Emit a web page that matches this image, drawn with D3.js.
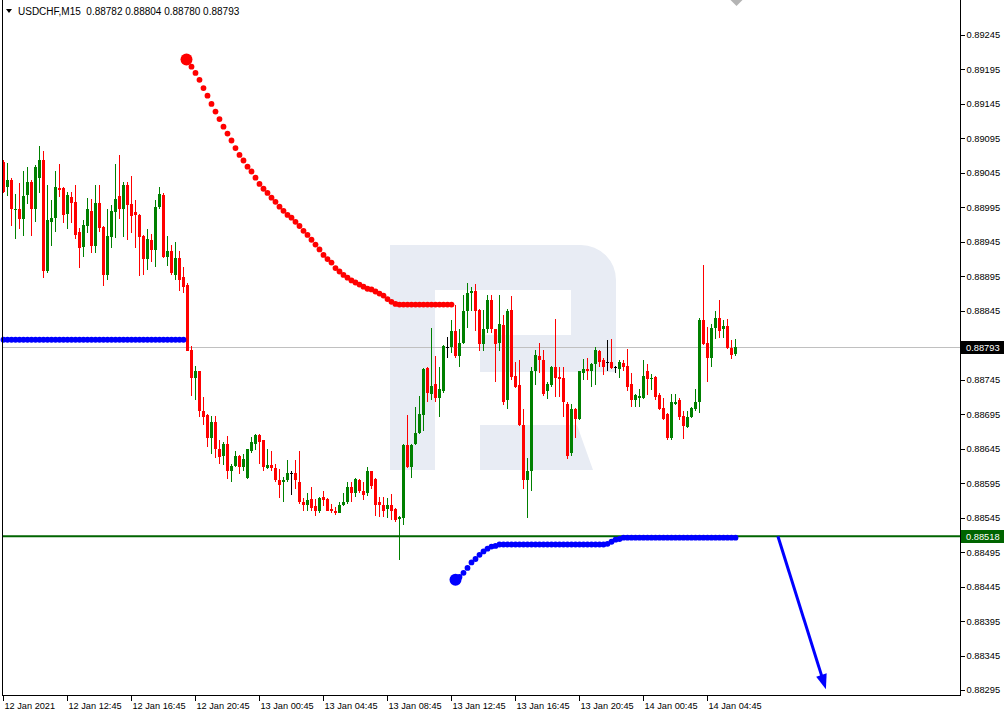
<!DOCTYPE html>
<html><head><meta charset="utf-8">
<script src="https://cdn.jsdelivr.net/npm/d3@7/dist/d3.min.js"></script>
<style>
html,body{margin:0;padding:0;background:#fff;}
svg{display:block;font-family:"Liberation Sans",Arial,sans-serif;}
</style></head>
<body>
<svg id="chart" width="1007" height="716"></svg>
<script>
// ---------- DATA ----------
const symbolTitle = "USDCHF,M15  0.88782 0.88804 0.88780 0.88793";
const timeLabels = ["12 Jan 2021","12 Jan 12:45","12 Jan 16:45","12 Jan 20:45","13 Jan 00:45","13 Jan 04:45","13 Jan 08:45","13 Jan 12:45","13 Jan 16:45","13 Jan 20:45","14 Jan 00:45","14 Jan 04:45"];
const timeLabelIndex = [0,16,32,48,64,80,96,112,128,144,160,176];
const priceTicks = [0.89245,0.89195,0.89145,0.89095,0.89045,0.88995,0.88945,0.88895,0.88845,0.88795,0.88745,0.88695,0.88645,0.88595,0.88545,0.88495,0.88445,0.88395,0.88345,0.88295];
const currentPrice = 0.88793;
const levelPrice = 0.88518;

const open = [
0.89061,0.89025,0.89035,0.88992,0.88993,0.88978,0.89013,0.89032,0.88992,0.89038,
0.89064,0.88902,0.88974,0.88980,0.89023,0.89023,0.88986,0.89010,0.89003,0.88960,
0.88938,0.88968,0.88990,0.88939,0.89002,0.88967,0.88897,0.88952,0.88989,0.89012,
0.88993,0.89028,0.89000,0.88989,0.88984,0.88954,0.88920,0.88948,0.88933,0.88996,
0.89013,0.88923,0.88931,0.88897,0.88922,0.88894,0.88883,0.88788,0.88748,0.88757,
0.88700,0.88694,0.88661,0.88684,0.88645,0.88635,0.88652,0.88612,0.88620,0.88635,
0.88619,0.88603,0.88641,0.88652,0.88665,0.88657,0.88617,0.88622,0.88617,0.88600,
0.88596,0.88599,0.88610,0.88610,0.88597,0.88568,0.88564,0.88572,0.88562,0.88554,
0.88575,0.88572,0.88558,0.88555,0.88552,0.88564,0.88567,0.88590,0.88581,0.88600,
0.88584,0.88581,0.88612,0.88601,0.88567,0.88564,0.88557,0.88564,0.88558,0.88543,
0.88545,0.88651,0.88619,0.88652,0.88668,0.88694,0.88762,0.88725,0.88739,0.88719,
0.88729,0.88793,0.88793,0.88815,0.88780,0.88799,0.88844,0.88871,0.88873,0.88846,
0.88797,0.88818,0.88860,0.88818,0.88799,0.88825,0.88716,0.88846,0.88751,0.88738,
0.88680,0.88599,0.88612,0.88757,0.88780,0.88773,0.88728,0.88738,0.88764,0.88749,
0.88748,0.88710,0.88639,0.88703,0.88688,0.88755,0.88760,0.88758,0.88768,0.88787,
0.88773,0.88771,0.88771,0.88764,0.88760,0.88770,0.88765,0.88739,0.88716,0.88719,
0.88719,0.88757,0.88746,0.88749,0.88723,0.88704,0.88696,0.88661,0.88710,0.88716,
0.88693,0.88677,0.88691,0.88702,0.88712,0.88832,0.88799,0.88777,0.88820,0.88835,
0.88818,0.88823,0.88791,0.88782];
const high = [
0.89063,0.89060,0.89038,0.89015,0.89031,0.89048,0.89054,0.89035,0.89057,0.89084,
0.89077,0.89028,0.89005,0.89048,0.89058,0.89025,0.89018,0.89018,0.89028,0.88965,
0.88977,0.89009,0.89007,0.89028,0.89028,0.88968,0.88993,0.88999,0.89058,0.89071,
0.89032,0.89032,0.89041,0.89005,0.88986,0.88955,0.88964,0.88957,0.89005,0.89025,
0.89016,0.88954,0.88941,0.88945,0.88931,0.88909,0.88886,0.88794,0.88765,0.88758,
0.88720,0.88696,0.88693,0.88693,0.88657,0.88655,0.88664,0.88623,0.88641,0.88636,
0.88638,0.88645,0.88662,0.88667,0.88667,0.88658,0.88645,0.88641,0.88623,0.88616,
0.88604,0.88628,0.88613,0.88629,0.88642,0.88574,0.88581,0.88590,0.88572,0.88575,
0.88584,0.88574,0.88565,0.88561,0.88567,0.88581,0.88596,0.88596,0.88603,0.88601,
0.88597,0.88619,0.88613,0.88603,0.88575,0.88575,0.88574,0.88580,0.88559,0.88548,
0.88652,0.88694,0.88652,0.88706,0.88722,0.88762,0.88764,0.88820,0.88780,0.88764,
0.88796,0.88807,0.88831,0.88854,0.88818,0.88868,0.88886,0.88880,0.88884,0.88848,
0.88846,0.88868,0.88868,0.88819,0.88868,0.88839,0.88848,0.88867,0.88771,0.88774,
0.88703,0.88632,0.88764,0.88788,0.88799,0.88788,0.88742,0.88765,0.88833,0.88764,
0.88764,0.88712,0.88710,0.88704,0.88758,0.88775,0.88777,0.88770,0.88793,0.88788,
0.88777,0.88802,0.88804,0.88765,0.88773,0.88773,0.88790,0.88755,0.88725,0.88732,
0.88774,0.88768,0.88754,0.88751,0.88726,0.88719,0.88697,0.88725,0.88725,0.88719,
0.88699,0.88700,0.88706,0.88732,0.88835,0.88912,0.88822,0.88826,0.88845,0.88860,
0.88832,0.88833,0.88802,0.88804];
const low = [
0.89016,0.89012,0.88968,0.88949,0.88964,0.88954,0.89000,0.88954,0.88974,0.89016,
0.88893,0.88900,0.88939,0.88960,0.89010,0.88973,0.88964,0.88973,0.88949,0.88907,
0.88923,0.88958,0.88929,0.88929,0.88960,0.88881,0.88889,0.88936,0.88951,0.88978,
0.88952,0.88948,0.88958,0.88936,0.88896,0.88897,0.88904,0.88916,0.88909,0.88992,
0.88922,0.88910,0.88897,0.88890,0.88874,0.88871,0.88786,0.88722,0.88716,0.88691,
0.88680,0.88648,0.88638,0.88632,0.88623,0.88622,0.88601,0.88597,0.88619,0.88609,
0.88613,0.88601,0.88639,0.88643,0.88623,0.88612,0.88616,0.88613,0.88597,0.88573,
0.88567,0.88596,0.88578,0.88587,0.88565,0.88554,0.88554,0.88555,0.88548,0.88551,
0.88562,0.88554,0.88551,0.88549,0.88551,0.88562,0.88565,0.88567,0.88575,0.88581,
0.88570,0.88577,0.88586,0.88548,0.88546,0.88546,0.88545,0.88541,0.88539,0.88484,
0.88535,0.88617,0.88603,0.88651,0.88667,0.88670,0.88712,0.88716,0.88712,0.88691,
0.88726,0.88777,0.88784,0.88777,0.88764,0.88797,0.88820,0.88844,0.88815,0.88787,
0.88786,0.88813,0.88813,0.88741,0.88787,0.88709,0.88703,0.88745,0.88733,0.88678,
0.88586,0.88545,0.88583,0.88738,0.88755,0.88722,0.88717,0.88735,0.88720,0.88720,
0.88691,0.88630,0.88635,0.88661,0.88687,0.88745,0.88744,0.88735,0.88738,0.88764,
0.88752,0.88758,0.88761,0.88755,0.88748,0.88757,0.88728,0.88706,0.88706,0.88706,
0.88717,0.88723,0.88730,0.88716,0.88701,0.88687,0.88658,0.88658,0.88709,0.88686,
0.88659,0.88675,0.88690,0.88699,0.88697,0.88796,0.88742,0.88764,0.88804,0.88806,
0.88806,0.88790,0.88775,0.88780];
const close = [
0.89018,0.89035,0.88993,0.88993,0.88978,0.89012,0.89032,0.88993,0.89054,0.89064,
0.88902,0.88976,0.88980,0.89025,0.89020,0.88984,0.89013,0.89002,0.88955,0.88936,
0.88970,0.88992,0.88939,0.89002,0.88965,0.88897,0.88954,0.88990,0.89007,0.88992,
0.89028,0.88999,0.88983,0.88984,0.88952,0.88920,0.88949,0.88933,0.88996,0.89015,
0.88923,0.88931,0.88900,0.88922,0.88890,0.88880,0.88787,0.88748,0.88757,0.88699,
0.88691,0.88661,0.88684,0.88645,0.88633,0.88652,0.88612,0.88620,0.88635,0.88619,
0.88630,0.88644,0.88654,0.88665,0.88655,0.88619,0.88622,0.88617,0.88599,0.88593,
0.88599,0.88610,0.88610,0.88599,0.88567,0.88564,0.88571,0.88559,0.88554,0.88574,
0.88571,0.88555,0.88554,0.88552,0.88564,0.88568,0.88590,0.88581,0.88601,0.88584,
0.88578,0.88612,0.88591,0.88564,0.88564,0.88555,0.88564,0.88555,0.88541,0.88546,
0.88651,0.88619,0.88651,0.88668,0.88696,0.88760,0.88726,0.88736,0.88719,0.88731,
0.88794,0.88793,0.88815,0.88780,0.88799,0.88844,0.88871,0.88874,0.88845,0.88797,
0.88818,0.88860,0.88818,0.88797,0.88826,0.88713,0.88845,0.88749,0.88735,0.88680,
0.88599,0.88612,0.88757,0.88781,0.88773,0.88725,0.88739,0.88764,0.88748,0.88746,
0.88712,0.88635,0.88703,0.88688,0.88757,0.88760,0.88757,0.88768,0.88788,0.88771,
0.88764,0.88771,0.88762,0.88764,0.88771,0.88764,0.88735,0.88715,0.88723,0.88722,
0.88751,0.88746,0.88748,0.88720,0.88703,0.88688,0.88661,0.88712,0.88712,0.88691,
0.88678,0.88691,0.88704,0.88713,0.88832,0.88797,0.88777,0.88820,0.88835,0.88816,
0.88823,0.88791,0.88781,0.88793];

// indicator dots (trailing-stop style)
const blueUpperStart = 0;
const blueUpper = [
0.88803,0.88803,0.88803,0.88803,0.88803,0.88803,0.88803,0.88803,0.88803,0.88803,
0.88803,0.88803,0.88803,0.88803,0.88803,0.88803,0.88803,0.88803,0.88803,0.88803,
0.88803,0.88803,0.88803,0.88803,0.88803,0.88803,0.88803,0.88803,0.88803,0.88803,
0.88803,0.88803,0.88803,0.88803,0.88803,0.88803,0.88803,0.88803,0.88803,0.88803,
0.88803,0.88803,0.88803,0.88803,0.88803,0.88803];
const redStart = 46;
const redStop = [
0.89208,0.89199,0.89190,0.89180,0.89168,0.89157,0.89145,0.89134,0.89123,0.89112,
0.89102,0.89092,0.89081,0.89071,0.89063,0.89054,0.89047,0.89038,0.89029,0.89022,
0.89016,0.89009,0.89003,0.88996,0.88990,0.88984,0.88980,0.88974,0.88968,0.88961,
0.88955,0.88948,0.88941,0.88934,0.88926,0.88920,0.88915,0.88907,0.88902,0.88897,
0.88893,0.88889,0.88886,0.88883,0.88880,0.88877,0.88876,0.88873,0.88870,0.88867,
0.88862,0.88858,0.88855,0.88854,0.88854,0.88854,0.88854,0.88854,0.88854,0.88854,
0.88854,0.88854,0.88854,0.88854,0.88854,0.88854,0.88854];
const blueLowerStart = 113;
const blueLower = [
0.88455,0.88459,0.88465,0.88472,0.88480,0.88485,0.88491,0.88496,0.88500,0.88503,
0.88504,0.88506,0.88506,0.88506,0.88506,0.88506,0.88506,0.88506,0.88506,0.88506,
0.88506,0.88506,0.88506,0.88506,0.88506,0.88506,0.88506,0.88506,0.88506,0.88506,
0.88506,0.88506,0.88506,0.88506,0.88506,0.88506,0.88506,0.88506,0.88507,0.88510,
0.88513,0.88514,0.88516,0.88516,0.88516,0.88516,0.88516,0.88516,0.88516,0.88516,
0.88516,0.88516,0.88516,0.88516,0.88516,0.88516,0.88516,0.88516,0.88516,0.88516,
0.88516,0.88516,0.88516,0.88516,0.88516,0.88516,0.88516,0.88516,0.88516,0.88516,
0.88516];
// forecast arrow (bar index, price)
const arrowFrom = [193.6, 0.88518];
const arrowTo = [205.6, 0.88296];

// ---------- CHART ----------
const svg = d3.select("#chart");
const W = 1007, H = 716;
const plotRight = 960, plotBottom = 695, plotLeft = 2;
const RED = "#ff0000", GREEN = "#008000", BLUE = "#0000ff";

const x = d3.scaleLinear().domain([0, 183]).range([3.5, 735.5]);
const y = d3.scaleLinear().domain([0.88295, 0.89245]).range([690, 35]);

svg.append("rect").attr("width", W).attr("height", H).attr("fill", "#fff");

// watermark logo
const wm = svg.append("g").attr("fill", "#e8ecf4");
wm.append("path").attr("d",
  "M390,245 H581 A35,35 0 0 1 616,280 V372 H480 V335 H571 V290 H435 V470 H390 Z");
wm.append("path").attr("d", "M480,425 H577 L593,470 H480 Z");

// current price line
svg.append("line").attr("x1", plotLeft).attr("x2", plotRight)
  .attr("y1", Math.round(y(currentPrice)) + 0.5).attr("y2", Math.round(y(currentPrice)) + 0.5)
  .attr("stroke", "#c0c0c0").attr("stroke-width", 1);

// candles
const candles = open.map((o, i) => ({i, o, h: high[i], l: low[i], c: close[i]}));
const cg = svg.append("g").attr("shape-rendering", "crispEdges");
candles.forEach(d => {
  const col = d.c > d.o ? GREEN : (d.c < d.o ? RED : "#000");
  const cx = x(d.i);
  const yh = y(d.h), yl = y(d.l);
  cg.append("rect").attr("x", cx - 0.5).attr("width", 1)
    .attr("y", yh).attr("height", Math.max(1, yl - yh)).attr("fill", col);
  const yt = y(Math.max(d.o, d.c)), yb = y(Math.min(d.o, d.c));
  cg.append("rect").attr("x", cx - 1.5).attr("width", 3)
    .attr("y", yt).attr("height", Math.max(1, yb - yt)).attr("fill", col);
});

// level line
svg.append("line").attr("x1", plotLeft).attr("x2", plotRight)
  .attr("y1", y(levelPrice)).attr("y2", y(levelPrice))
  .attr("stroke", "#006400").attr("stroke-width", 2);

// indicator dots
function dots(values, start, color) {
  svg.append("g").selectAll("circle").data(values).join("circle")
    .attr("cx", (v, k) => x(start + k)).attr("cy", v => y(v))
    .attr("r", 2.9).attr("fill", color);
}
dots(blueUpper, blueUpperStart, BLUE);
dots(redStop, redStart, RED);
dots(blueLower, blueLowerStart, BLUE);
svg.append("circle").attr("cx", x(redStart) - 1).attr("cy", y(redStop[0]) - 1).attr("r", 6).attr("fill", RED);
svg.append("circle").attr("cx", x(blueLowerStart)).attr("cy", y(blueLower[0])).attr("r", 6).attr("fill", BLUE);

// arrow
const ax1 = x(arrowFrom[0]), ay1 = y(arrowFrom[1]);
const ax2 = x(arrowTo[0]), ay2 = y(arrowTo[1]);
const len = Math.hypot(ax2 - ax1, ay2 - ay1);
const ux = (ax2 - ax1) / len, uy = (ay2 - ay1) / len;
const headL = 15, headW = 5.5;
svg.append("line").attr("x1", ax1).attr("y1", ay1)
  .attr("x2", ax2 - ux * headL * 0.8).attr("y2", ay2 - uy * headL * 0.8)
  .attr("stroke", BLUE).attr("stroke-width", 3);
svg.append("path").attr("fill", BLUE).attr("d",
  `M${ax2},${ay2} L${ax2 - ux*headL - uy*headW},${ay2 - uy*headL + ux*headW} L${ax2 - ux*headL + uy*headW},${ay2 - uy*headL - ux*headW} Z`);

// frame
const fr = svg.append("g").attr("stroke", "#000").attr("stroke-width", 1).attr("shape-rendering", "crispEdges");
fr.append("line").attr("x1", 2.5).attr("x2", 2.5).attr("y1", 0).attr("y2", plotBottom + 0.5);
fr.append("line").attr("x1", 2).attr("x2", plotRight + 0.5).attr("y1", plotBottom + 0.5).attr("y2", plotBottom + 0.5);
fr.append("line").attr("x1", plotRight + 0.5).attr("x2", plotRight + 0.5).attr("y1", 0).attr("y2", plotBottom + 0.5);

// right axis
const yAxis = d3.axisRight(y).tickValues(priceTicks).tickSize(4).tickPadding(2)
  .tickFormat(d3.format(".5f"));
const gy = svg.append("g").attr("transform", `translate(${plotRight + 0.5},0)`).call(yAxis);
gy.select(".domain").remove();
gy.selectAll("line").attr("stroke", "#000").attr("shape-rendering", "crispEdges");
gy.selectAll("text").attr("font-size", 9.3).attr("fill", "#000")
  .attr("font-family", '"Liberation Sans",Arial,sans-serif');

// bottom axis
const labelMap = new Map(timeLabelIndex.map((v, k) => [v, timeLabels[k]]));
const xAxis = d3.axisBottom(x).tickValues(timeLabelIndex).tickSize(5).tickPadding(2)
  .tickFormat(v => labelMap.get(v));
const gx = svg.append("g").attr("transform", `translate(-0.5,${plotBottom + 0.5})`).call(xAxis);
gx.select(".domain").remove();
gx.selectAll("line").attr("stroke", "#000").attr("shape-rendering", "crispEdges");
gx.selectAll("text").attr("font-size", 9.2).attr("fill", "#000").attr("text-anchor", "start").attr("x", 1)
  .attr("font-family", '"Liberation Sans",Arial,sans-serif');

// price labels
function priceLabel(p, bg) {
  const yy = Math.round(y(p));
  svg.append("rect").attr("x", plotRight + 1).attr("y", yy - 6).attr("width", 43).attr("height", 13).attr("fill", bg);
  svg.append("text").attr("x", plotRight + 6).attr("y", yy + 3.5).attr("font-size", 9.3)
    .attr("fill", "#fff").text(d3.format(".5f")(p));
}
priceLabel(currentPrice, "#000");
priceLabel(levelPrice, "#006400");

// header
svg.append("path").attr("d", "M6,9 L12,9 L9,13 Z").attr("fill", "#000");
svg.append("text").attr("x", 18).attr("y", 14.5).attr("font-size", 10).attr("fill", "#000")
  .attr("xml:space", "preserve").style("white-space", "pre").text(symbolTitle);

// shift marker
svg.append("path").attr("d", `M${x(183) - 5},0 L${x(183) + 7},0 L${x(183) + 1},6 Z`).attr("fill", "#b4b4b4");
</script>
</body></html>
